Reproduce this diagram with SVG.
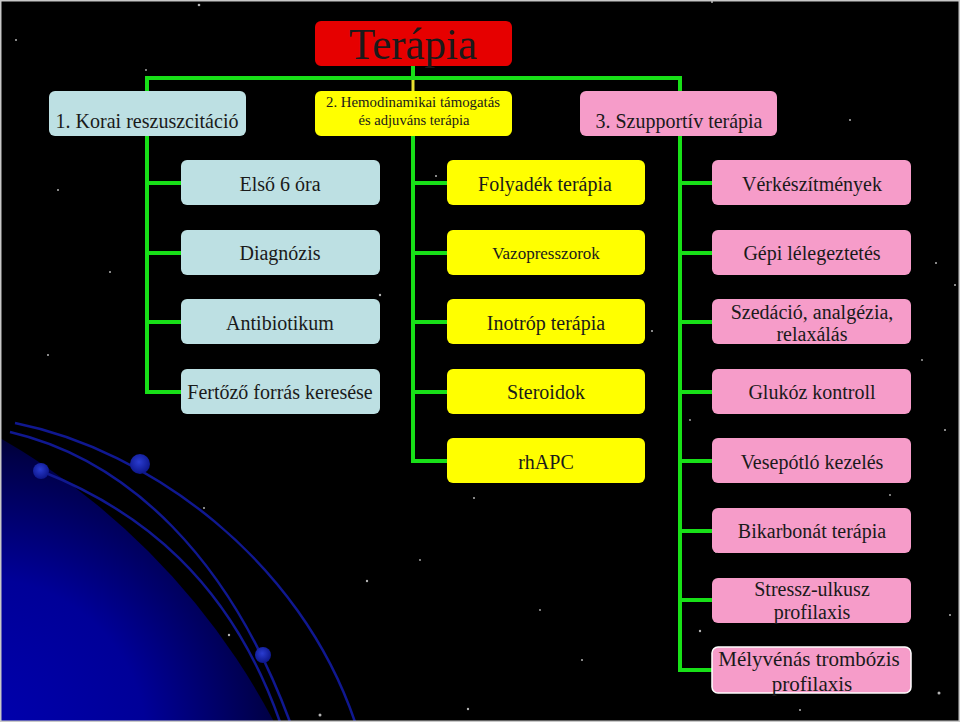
<svg xmlns="http://www.w3.org/2000/svg" width="960" height="722" viewBox="0 0 960 722">
<defs>
<radialGradient id="planet" cx="-20" cy="745" r="370" gradientUnits="userSpaceOnUse">
<stop offset="0" stop-color="#0000b0"/>
<stop offset="0.45" stop-color="#000098"/>
<stop offset="0.78" stop-color="#000048"/>
<stop offset="1" stop-color="#000000"/>
</radialGradient>
<clipPath id="pclip"><circle cx="-350" cy="1050" r="705"/></clipPath>
<radialGradient id="dot" cx="0.45" cy="0.4" r="0.6">
<stop offset="0" stop-color="#2a3cd0"/>
<stop offset="1" stop-color="#0c168a"/>
</radialGradient>
</defs>
<style>
.blue{fill:#bde0e3}
.yel{fill:#ffff00}
.pink{fill:#f69cc9}
.red{fill:#e60000}
.t{font-family:"Liberation Serif","Times New Roman",serif;fill:#1a1a1a;text-anchor:middle}
.f20{font-size:20px}
.link{stroke:#18e018;stroke-width:4;fill:none}
.arc{stroke:#101890;stroke-width:2.5;fill:none}
.star{fill:#ffffff}
</style>
<rect x="0" y="0" width="960" height="722" fill="#000"/>
<g id="background">
<rect x="0" y="0" width="960" height="722" fill="url(#planet)" clip-path="url(#pclip)"/>
<path class="arc" d="M15 423 C150 450 300 560 355 722"/>
<path class="arc" d="M10 432 C130 460 230 560 290 722"/>
<path class="arc" d="M41 471 C140 510 230 580 280 722"/>
<circle cx="140" cy="464" r="10" fill="url(#dot)"/>
<circle cx="41" cy="471" r="8" fill="url(#dot)"/>
<circle cx="263" cy="655" r="8" fill="url(#dot)"/>
<g opacity="0.7">
<circle class="star" cx="199" cy="5" r="1.3"/>
<circle class="star" cx="398" cy="29" r="1"/>
<circle class="star" cx="16" cy="40" r="1"/>
<circle class="star" cx="146" cy="70" r="0.9"/>
<circle class="star" cx="850" cy="120" r="1"/>
<circle class="star" cx="712" cy="2" r="1"/>
<circle class="star" cx="58" cy="190" r="1"/>
<circle class="star" cx="110" cy="272" r="1"/>
<circle class="star" cx="48" cy="355" r="1"/>
<circle class="star" cx="380" cy="295" r="1.2"/>
<circle class="star" cx="436" cy="176" r="1"/>
<circle class="star" cx="936" cy="263" r="1"/>
<circle class="star" cx="955" cy="285" r="1"/>
<circle class="star" cx="652" cy="331" r="1"/>
<circle class="star" cx="204" cy="508" r="1"/>
<circle class="star" cx="229" cy="635" r="1.2"/>
<circle class="star" cx="320" cy="715" r="1.5"/>
<circle class="star" cx="367" cy="581" r="1.2"/>
<circle class="star" cx="474" cy="498" r="1"/>
<circle class="star" cx="468" cy="709" r="1.2"/>
<circle class="star" cx="582" cy="660" r="1"/>
<circle class="star" cx="700" cy="631" r="1.2"/>
<circle class="star" cx="716" cy="552" r="1"/>
<circle class="star" cx="939" cy="693" r="1.5"/>
<circle class="star" cx="950" cy="615" r="1"/>
<circle class="star" cx="945" cy="430" r="1"/>
<circle class="star" cx="890" cy="495" r="0.9"/>
<circle class="star" cx="800" cy="710" r="1"/>
<circle class="star" cx="540" cy="610" r="0.9"/>
<circle class="star" cx="420" cy="560" r="0.9"/>
<circle class="star" cx="690" cy="420" r="0.9"/>
<circle class="star" cx="922" cy="360" r="0.9"/>
</g>
</g>
<g id="connectors">
<line class="link" x1="413" y1="66" x2="413" y2="79"/>
<line x1="413" y1="80" x2="413" y2="91" stroke="#e8e030" stroke-width="3"/>
<polyline class="link" points="147,91 147,78 680,78 680,91"/>
<polyline class="link" points="147,136 147,392 181,392"/>
<line class="link" x1="147" y1="183" x2="181" y2="183"/>
<line class="link" x1="147" y1="253" x2="181" y2="253"/>
<line class="link" x1="147" y1="322" x2="181" y2="322"/>
<polyline class="link" points="413,136 413,461 447,461"/>
<line class="link" x1="413" y1="183" x2="447" y2="183"/>
<line class="link" x1="413" y1="253" x2="447" y2="253"/>
<line class="link" x1="413" y1="322" x2="447" y2="322"/>
<line class="link" x1="413" y1="392" x2="447" y2="392"/>
<polyline class="link" points="680,136 680,670 712,670"/>
<line class="link" x1="680" y1="183" x2="712" y2="183"/>
<line class="link" x1="680" y1="253" x2="712" y2="253"/>
<line class="link" x1="680" y1="322" x2="712" y2="322"/>
<line class="link" x1="680" y1="392" x2="712" y2="392"/>
<line class="link" x1="680" y1="461" x2="712" y2="461"/>
<line class="link" x1="680" y1="531" x2="712" y2="531"/>
<line class="link" x1="680" y1="600" x2="712" y2="600"/>
</g>
<g id="terapia">
<rect class="red" x="315" y="21" width="197" height="45" rx="6"/>
<text class="t" x="413" y="59" font-size="44" textLength="128" lengthAdjust="spacingAndGlyphs">Terápia</text>
</g>
<g id="korai">
<rect class="blue" x="49" y="91" width="197" height="45" rx="6"/>
<text class="t" x="147" y="128" font-size="21" textLength="183" lengthAdjust="spacingAndGlyphs">1. Korai reszuszcitáció</text>
</g>
<g id="hemodinamikai">
<rect class="yel" x="315" y="91" width="197" height="45" rx="6"/>
<text class="t" x="413" y="107" font-size="15" textLength="174" lengthAdjust="spacingAndGlyphs">2. Hemodinamikai  támogatás</text>
<text class="t" x="414" y="125" font-size="15" textLength="111" lengthAdjust="spacingAndGlyphs">és adjuváns terápia</text>
</g>
<g id="szupportiv">
<rect class="pink" x="580" y="91" width="197" height="45" rx="6"/>
<text class="t" x="679" y="128" font-size="21" textLength="167" lengthAdjust="spacingAndGlyphs">3. Szupportív terápia</text>
</g>
<g id="elso6ora"><rect class="blue" x="181" y="160" width="199" height="45" rx="6"/><text class="t f20" x="280" y="191">Első 6 óra</text></g>
<g id="diagnozis"><rect class="blue" x="181" y="230" width="199" height="45" rx="6"/><text class="t f20" x="280" y="260">Diagnózis</text></g>
<g id="antibiotikum"><rect class="blue" x="181" y="299" width="199" height="45" rx="6"/><text class="t f20" x="280" y="330">Antibiotikum</text></g>
<g id="fertozo"><rect class="blue" x="181" y="369" width="199" height="45" rx="6"/><text class="t f20" x="280" y="399">Fertőző forrás keresése</text></g>
<g id="folyadek"><rect class="yel" x="447" y="160" width="198" height="45" rx="6"/><text class="t f20" x="545" y="191">Folyadék terápia</text></g>
<g id="vazopresszorok"><rect class="yel" x="447" y="230" width="198" height="45" rx="6"/><text class="t" x="546" y="259" font-size="17">Vazopresszorok</text></g>
<g id="inotrop"><rect class="yel" x="447" y="299" width="198" height="45" rx="6"/><text class="t f20" x="546" y="330">Inotróp terápia</text></g>
<g id="steroidok"><rect class="yel" x="447" y="369" width="198" height="45" rx="6"/><text class="t f20" x="546" y="399">Steroidok</text></g>
<g id="rhapc"><rect class="yel" x="447" y="438" width="198" height="45" rx="6"/><text class="t f20" x="546" y="469">rhAPC</text></g>
<g id="verkeszitmenyek"><rect class="pink" x="712" y="160" width="199" height="45" rx="6"/><text class="t f20" x="812" y="191">Vérkészítmények</text></g>
<g id="gepi"><rect class="pink" x="712" y="230" width="199" height="45" rx="6"/><text class="t f20" x="812" y="260">Gépi lélegeztetés</text></g>
<g id="szedacio"><rect class="pink" x="712" y="299" width="199" height="45" rx="6"/><text class="t f20" x="812" y="319">Szedáció, analgézia,</text><text class="t f20" x="812" y="341">relaxálás</text></g>
<g id="glukoz"><rect class="pink" x="712" y="369" width="199" height="45" rx="6"/><text class="t f20" x="812" y="399">Glukóz kontroll</text></g>
<g id="vesepotlo"><rect class="pink" x="712" y="438" width="199" height="45" rx="6"/><text class="t f20" x="812" y="469">Vesepótló kezelés</text></g>
<g id="bikarbonat"><rect class="pink" x="712" y="508" width="199" height="45" rx="6"/><text class="t f20" x="812" y="538">Bikarbonát terápia</text></g>
<g id="stressz"><rect class="pink" x="712" y="578" width="199" height="45" rx="6"/><text class="t f20" x="812" y="596">Stressz-ulkusz</text><text class="t f20" x="812" y="619">profilaxis</text></g>
<g id="melyvenas"><rect class="pink" x="712" y="647" width="199" height="46" rx="6" stroke="#ffffff" stroke-width="1.5"/><text class="t" x="809" y="666" font-size="21">Mélyvénás trombózis</text><text class="t" x="812" y="691" font-size="21">profilaxis</text></g>
<rect x="0.75" y="0.75" width="958.5" height="720.5" fill="none" stroke="#c8c8c8" stroke-width="1.5"/>
</svg>
